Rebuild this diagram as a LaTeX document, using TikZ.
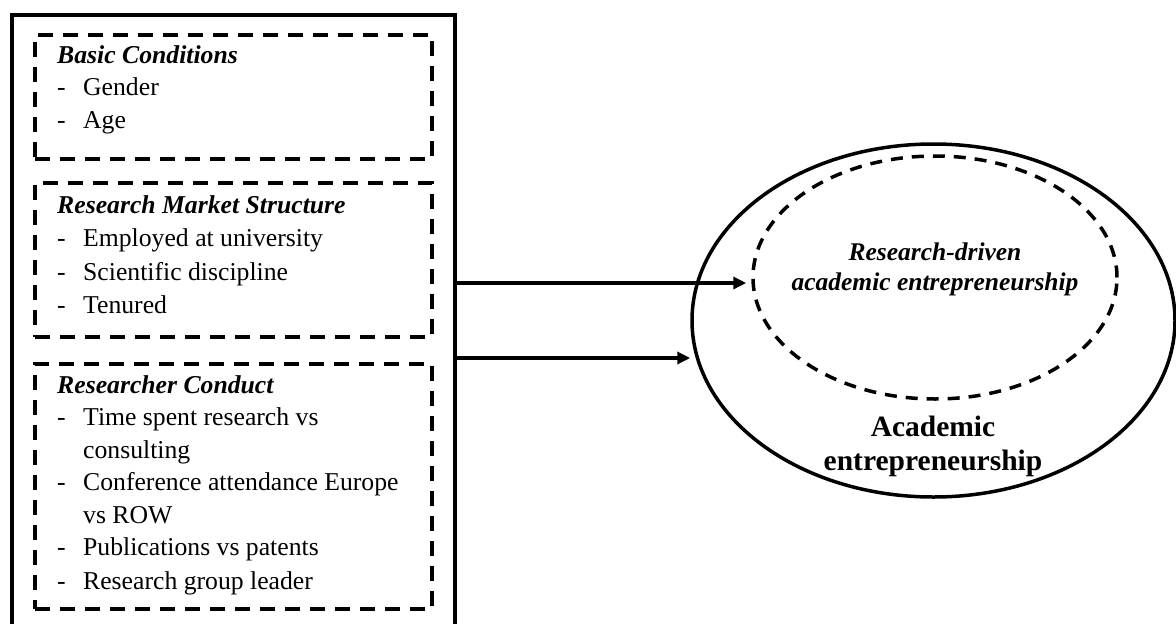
\documentclass[tikz,border=0pt]{standalone}
\usepackage{fontspec}
\setmainfont{Liberation Serif}
\usetikzlibrary{positioning,arrows.meta,shapes.geometric}

\begin{document}
\begin{tikzpicture}[x=1pt,y=-1pt]
        \tikzstyle{frame}=[rectangle,draw=black,line width=3.5pt,inner sep=0pt,anchor=north west]
        \tikzstyle{group}=[rectangle,draw=black,line width=3.5pt,dash pattern=on 15pt off 10pt,inner sep=0pt,minimum width=397pt,anchor=north west]
        \tikzstyle{head}=[anchor=base west,inner sep=0pt,font=\fontsize{25.7}{30}\selectfont\bfseries\itshape]
        \tikzstyle{item}=[anchor=base west,inner sep=0pt,font=\fontsize{25.7}{30}\selectfont]
        \tikzstyle{arrow}=[line width=3.5pt,-{Triangle[length=13pt,width=12pt]}]
        \useasboundingbox (0,0) rectangle (1176,624);
        % left column
        \node[frame,minimum width=443pt,minimum height=640pt] (factors) at (10,13) {};
        \node[group,minimum height=124pt] (basic) at (33,33) {};
        \node[group,minimum height=154pt] (market) at (33,181) {};
        \node[group,minimum height=245pt] (conduct) at (33,362) {};
        \node[head] (basic_h) at (57,63) {Basic Conditions};
        \foreach \txt [count=\i] in {Gender,Age}
            \node[item] (basic_\i) at (57,{63+32.5*\i}) {\makebox[26pt][l]{-}\txt};
        \node[head] (market_h) at (57,213) {Research Market Structure};
        \foreach \txt [count=\i] in {Employed at university,Scientific discipline,Tenured}
            \node[item] (market_\i) at (57,{213+33.5*\i}) {\makebox[26pt][l]{-}\txt};
        \node[head] (conduct_h) at (57,393) {Researcher Conduct};
        \node[item] (conduct_1) at (57,425.5) {\makebox[26pt][l]{-}Time spent research vs};
        \node[item] (conduct_2) at (57,458) {\makebox[26pt][l]{}consulting};
        \node[item] (conduct_3) at (57,490.5) {\makebox[26pt][l]{-}Conference attendance Europe};
        \node[item] (conduct_4) at (57,523) {\makebox[26pt][l]{}vs ROW};
        \node[item] (conduct_5) at (57,555.5) {\makebox[26pt][l]{-}Publications vs patents};
        \node[item] (conduct_6) at (57,589) {\makebox[26pt][l]{-}Research group leader};
        % outcome
        \node[ellipse,draw=black,line width=3.5pt,inner sep=0pt,minimum width=483pt,minimum height=353pt] (academic) at (933.5,320.5) {};
        \node[ellipse,draw=black,line width=3.5pt,dash pattern=on 12pt off 9pt,inner sep=0pt,minimum width=364pt,minimum height=243pt] (driven) at (935,277.5) {};
        \node[align=center,font=\fontsize{25.5}{30}\selectfont\bfseries\itshape] (driven_t) at (935,269) {Research-driven\\academic entrepreneurship};
        \node[align=center,font=\fontsize{29.5}{34}\selectfont\bfseries] (academic_t) at (933,446) {Academic\\entrepreneurship};
        \coordinate (a1) at (0,283);
        \coordinate (a2) at (0,358);
        \draw[arrow,shorten >=5pt] (factors.east |- a1) -- (a1 -| driven.west);
        \draw[arrow] (factors.east |- a2) -- (a2 -| academic.west);
    \end{tikzpicture}
\end{document}
